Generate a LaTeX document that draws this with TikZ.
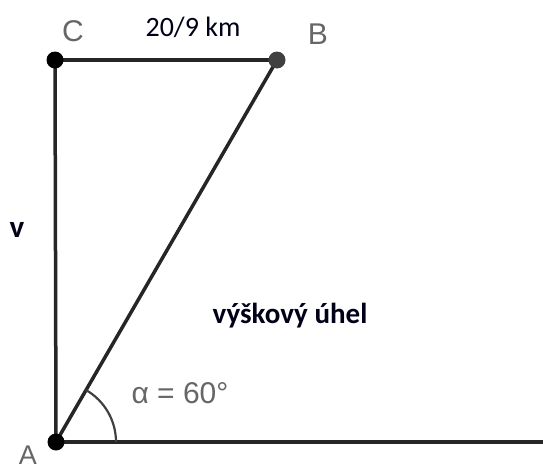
\documentclass[tikz,border=0pt]{standalone}
\usepackage{fontspec}
\setmainfont{Liberation Sans}
\newfontfamily\calib{Carlito}
\begin{document}
\begin{tikzpicture}[x=1pt,y=-1pt,
  seg/.style={line width=3.5pt,draw=black!85},
  pt/.style={circle,fill=black,inner sep=0pt,minimum size=17pt},
  lbl/.style={text=black!60,font=\fontsize{30}{32}\selectfont,inner sep=0pt},
  bold/.style={font=\calib\bfseries\fontsize{29}{31}\selectfont,text=black!90!blue,inner sep=0pt}]
\useasboundingbox (0,0) rectangle (543,471);
\coordinate (A) at (56,442);
\coordinate (B) at (277,60);
\coordinate (C) at (55,60);
\coordinate (E) at (543,442);
\draw[seg] (A) -- (E);
\draw[seg] (A) -- (C);
\draw[seg] (C) -- (B);
\draw[seg] (A) -- (B);
\draw[line width=2.2pt,draw=black!75] (116,442) arc[start angle=0,end angle=-60,radius=60];
\node[pt] (pC) at (C) {};
\node[pt,fill=black!75] (pB) at (B) {};
\node[pt] (pA) at (A) {};
\node[lbl] (lC) at (73,31) {C};
\node[lbl] (lB) at (318,34) {B};
\node[lbl,font=\fontsize{27}{29}\selectfont] (lA) at (28,455) {A};
\node[lbl] (al) at (180,393) {α = 60°};
\node[bold,font=\calib\fontsize{28}{30}\selectfont] (km) at (193,27) {20/9 km};
\node[bold,font=\calib\bfseries\fontsize{31}{33}\selectfont] (v) at (17,230) {v};
\node[bold] (vu) at (290,316) {výškový úhel};
\end{tikzpicture}
\end{document}
